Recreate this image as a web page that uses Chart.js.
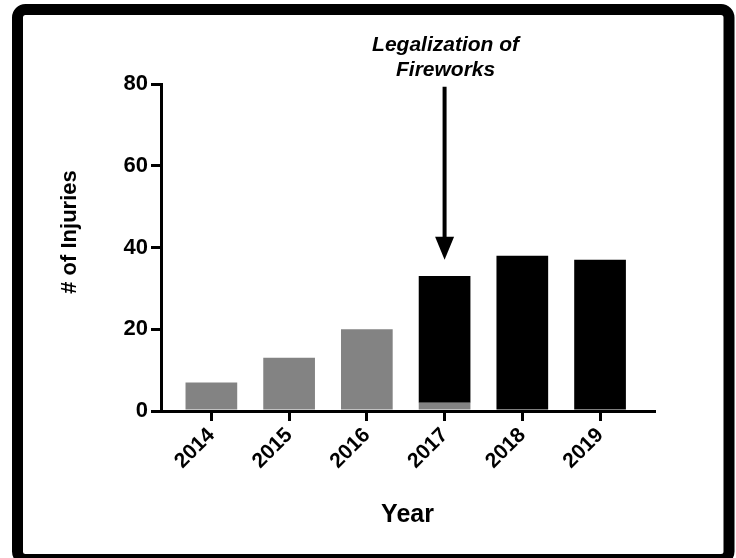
<!DOCTYPE html>
<html>
<head>
<meta charset="utf-8">
<script src="https://cdn.jsdelivr.net/npm/chart.js@4"></script>
<style>
  html, body { margin: 0; padding: 0; background: #ffffff; }
  #wrap { width: 736px; height: 558px; position: relative; }
  canvas { display: block; }
</style>
</head>
<body>
<div id="wrap"><canvas id="c" width="736" height="558"></canvas></div>
<script>
// ---- data ----
const years = [2014, 2015, 2016, 2017, 2018, 2019];
const beforeLegal = [7, 13, 20, 2, null, null];     // gray
const afterLegal  = [null, null, null, 31, 38, 37]; // black
const yTicks = [0, 20, 40, 60, 80];
const yTitle = '# of Injuries';
const xTitle = 'Year';
const noteLines = ['Legalization of', 'Fireworks'];
const noteYear = 2017;
const arrowFrom = 79.3;  // y value where arrow starts
const arrowTo = 37;      // y value of arrow tip

const FONT = "Arial, 'Liberation Sans', Helvetica, sans-serif";
const GRAY = '#838383';

const frame = {
  id: 'frame',
  afterDraw(chart) {
    const ctx = chart.ctx;
    const { chartArea, scales } = chart;
    ctx.save();
    ctx.strokeStyle = '#000';
    ctx.lineWidth = 11;
    const x = 17.5, y = 9.5, w = 711.5, h = 550, r = 8;
    ctx.beginPath();
    ctx.moveTo(x + r, y);
    ctx.lineTo(x + w - r, y);
    ctx.arcTo(x + w, y, x + w, y + r, r);
    ctx.lineTo(x + w, y + h - r);
    ctx.arcTo(x + w, y + h, x + w - r, y + h, r);
    ctx.lineTo(x + r, y + h);
    ctx.arcTo(x, y + h, x, y + h - r, r);
    ctx.lineTo(x, y + r);
    ctx.arcTo(x, y, x + r, y, r);
    ctx.closePath();
    ctx.stroke();

    // y axis title
    ctx.fillStyle = '#000';
    ctx.font = "bold 22px " + FONT;
    ctx.textAlign = 'center';
    ctx.textBaseline = 'middle';
    ctx.translate(70, 232);
    ctx.rotate(-Math.PI / 2);
    ctx.fillText(yTitle, 0, 0);
    ctx.restore();

    // annotation
    ctx.save();
    const ax = scales.x.getPixelForValue(noteYear);
    ctx.fillStyle = '#000';
    ctx.font = "italic bold 21px " + FONT;
    ctx.textAlign = 'center';
    ctx.textBaseline = 'alphabetic';
    ctx.fillText(noteLines[0], ax + 1, chartArea.top - 33);
    ctx.fillText(noteLines[1], ax + 1, chartArea.top - 8);
    const y0 = scales.y.getPixelForValue(arrowFrom);
    const y1 = scales.y.getPixelForValue(arrowTo);
    const headLen = 23, headHalf = 9.5;
    ctx.strokeStyle = '#000';
    ctx.lineWidth = 4;
    ctx.beginPath();
    ctx.moveTo(ax, y0);
    ctx.lineTo(ax, y1 - headLen + 2);
    ctx.stroke();
    ctx.beginPath();
    ctx.moveTo(ax - headHalf, y1 - headLen);
    ctx.lineTo(ax + headHalf, y1 - headLen);
    ctx.lineTo(ax, y1);
    ctx.closePath();
    ctx.fill();
    ctx.restore();
  }
};

const xMin = years[0] - 0.648;
const xMax = years[years.length - 1] + 0.694;

new Chart(document.getElementById('c'), {
  type: 'bar',
  data: {
    labels: years,
    datasets: [
      { label: 'Before legalization', data: beforeLegal, backgroundColor: GRAY, borderWidth: 0, inflateAmount: 0 },
      { label: 'After legalization', data: afterLegal, backgroundColor: '#000', borderWidth: 0, inflateAmount: 0 }
    ]
  },
  options: {
    responsive: false,
    animation: false,
    devicePixelRatio: 1,
    layout: { padding: { left: 24, right: 82, top: 84, bottom: 24 } },
    plugins: { legend: { display: false }, tooltip: { enabled: false } },
    datasets: { bar: { categoryPercentage: 1, barPercentage: 0.665 } },
    scales: {
      x: {
        type: 'linear',
        stacked: true,
        offset: false,
        z: 1,
        min: xMin,
        max: xMax,
        afterBuildTicks(scale) { scale.ticks = years.map(v => ({ value: v })); },
        afterFit(scale) { scale.height = 123; },
        grid: { display: true, offset: false, drawOnChartArea: false, drawTicks: true, tickLength: 10, color: '#000', lineWidth: 3 },
        border: { display: true, color: '#000', width: 3 },
        ticks: {
          color: '#000',
          font: { family: FONT, size: 21, weight: 'bold' },
          maxRotation: 45, minRotation: 45,
          autoSkip: false,
          padding: 2,
          callback: v => String(v)
        },
        title: {
          display: true, text: xTitle, color: '#000',
          font: { family: FONT, size: 25, weight: 'bold' },
          padding: { top: 4, bottom: 4 }
        }
      },
      y: {
        stacked: true,
        min: 0, max: 80,
        afterBuildTicks(scale) { scale.ticks = yTicks.map(v => ({ value: v })); },
        afterFit(scale) { scale.width = 161 - 24; },
        grid: { display: true, drawOnChartArea: false, drawTicks: true, tickLength: 10, color: '#000', lineWidth: 3 },
        border: { display: true, color: '#000', width: 3 },
        ticks: {
          color: '#000',
          font: { family: FONT, size: 22, weight: 'bold' },
          padding: 3
        },
        title: { display: false }
      }
    }
  },
  plugins: [frame]
});
</script>
</body>
</html>
